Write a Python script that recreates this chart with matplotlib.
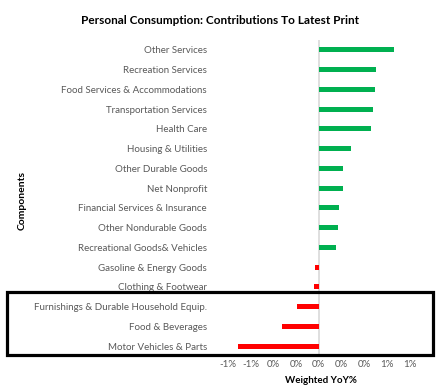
import matplotlib
matplotlib.use('Agg')
import matplotlib.pyplot as plt
from matplotlib.patches import Rectangle
from matplotlib.ticker import FuncFormatter

plt.rcParams['font.family'] = ['Lato', 'DejaVu Sans']

# components, top to bottom
components = ['Other Services', 'Recreation Services', 'Food Services & Accommodations',
              'Transportation Services', 'Health Care', 'Housing & Utilities',
              'Other Durable Goods', 'Net Nonprofit', 'Financial Services & Insurance',
              'Other Nondurable Goods', 'Recreational Goods& Vehicles',
              'Gasoline & Energy Goods', 'Clothing & Footwear',
              'Furnishings & Durable Household Equip.', 'Food & Beverages',
              'Motor Vehicles & Parts']
# weighted yoy contribution, in %
contrib = [0.66, 0.50, 0.49, 0.48, 0.46, 0.28, 0.21, 0.21, 0.18, 0.17, 0.15,
           -0.035, -0.045, -0.19, -0.32, -0.71]
xticks = [-0.8, -0.6, -0.4, -0.2, 0.0, 0.2, 0.4, 0.6, 0.8]

green = '#00B050'
red = '#FF0000'
txt = '#595959'

fig = plt.figure(figsize=(4.41, 3.89), dpi=100)
ax = fig.add_axes([214 / 441, 1 - 356 / 389, (428 - 214) / 441, (356 - 40) / 389])

ypos = list(range(len(components)))[::-1]
colors = [green if v >= 0 else red for v in contrib]
ax.barh(ypos, contrib, height=0.26, color=colors, zorder=3)

ax.set_ylim(-0.5, len(components) - 0.5)
ax.set_xlim(-0.92, 0.96)
ax.set_xticks(xticks)
ax.xaxis.set_major_formatter(FuncFormatter(lambda v, p: '%d%%' % round(v + 0.0)))
ax.set_yticks(ypos)
ax.set_yticklabels(components)
ax.tick_params(axis='x', length=0, labelsize=7, labelcolor=txt, pad=3)
ax.tick_params(axis='y', length=0, labelsize=7, labelcolor=txt, pad=5)
for s in ax.spines.values():
    s.set_visible(False)
ax.axvline(0, color='#D9D9D9', lw=1.2, zorder=2)

ax.set_xlabel('Weighted YoY%', fontsize=7, fontweight='bold', color='black', labelpad=5)
fig.text(22 / 441, 1 - 200 / 389, 'Components', rotation=90, fontsize=7.5,
         fontweight='bold', ha='center', va='center')
fig.text(220 / 441, 1 - 20 / 389, 'Personal Consumption: Contributions To Latest Print',
         fontsize=8.5, fontweight='bold', ha='center', va='center')

# highlight box around the biggest drags
fig.patches.append(Rectangle((7 / 441, 1 - 355 / 389), (433 - 7) / 441, (355 - 292) / 389,
                             transform=fig.transFigure, fill=False, ec='black', lw=2.3))

fig.savefig('out.png', dpi=100)
